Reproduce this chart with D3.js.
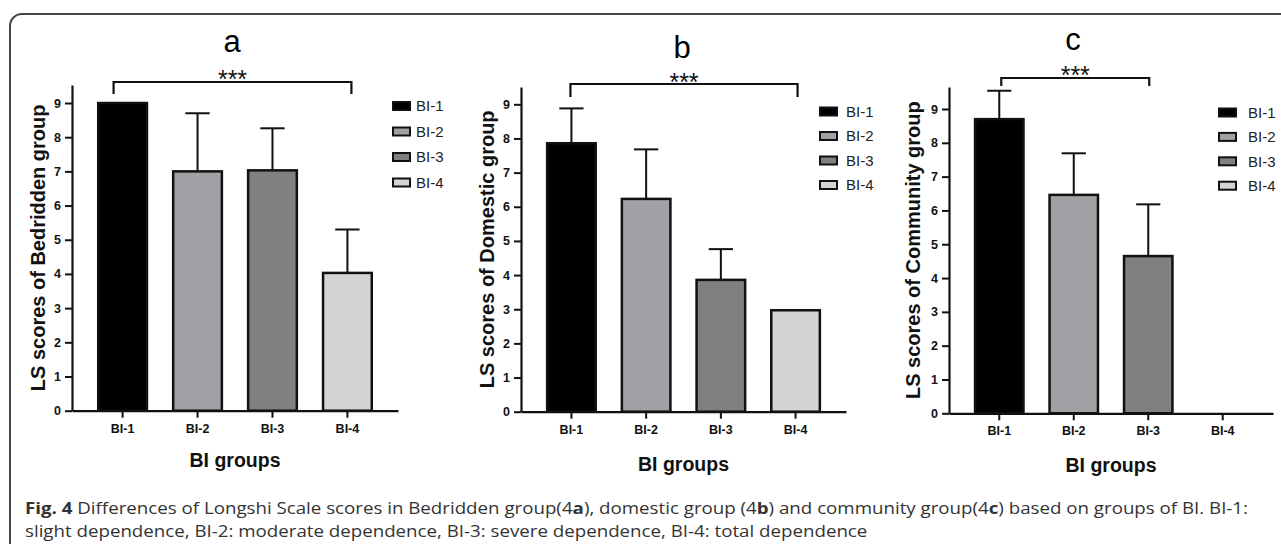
<!DOCTYPE html>
<html>
<head>
<meta charset="utf-8">
<script src="https://cdn.jsdelivr.net/npm/d3@7"></script>
<style>
  body { margin: 0; background: #fff; }
  svg { display: block; font-family: "Liberation Sans", Arial, sans-serif; }
</style>
</head>
<body>
<script>
// data
const groups = ["BI-1", "BI-2", "BI-3", "BI-4"];
const tickValues = [0, 1, 2, 3, 4, 5, 6, 7, 8, 9];

const bedriddenMeans = [9.0, 7.0, 7.03, 4.03];
const bedriddenErr = [0, 1.7, 1.23, 1.27];

const domesticMeans = [7.86, 6.23, 3.86, 2.97];
const domesticErr = [1.02, 1.45, 0.9, 0];

const communityMeans = [8.7, 6.46, 4.65, null];
const communityErr = [0.84, 1.23, 1.53, 0];

const barColors = ["#000000", "#a1a1a5", "#808080", "#d4d4d4"];

const captionBold = "Fig. 4";
const captionLine1 = [
  [" Differences of Longshi Scale scores in Bedridden group(4", false],
  ["a", true],
  ["), domestic group (4", false],
  ["b", true],
  [") and community group(4", false],
  ["c", true],
  [") based on groups of BI. BI-1:", false],
];
const captionLine2 =
  "slight dependence, BI-2: moderate dependence, BI-3: severe dependence, BI-4: total dependence";

const width = 1281;
const height = 544;

const svg = d3
  .select("body")
  .append("svg")
  .attr("width", width)
  .attr("height", height);

// frame around the figure
svg
  .append("rect")
  .attr("x", 10)
  .attr("y", 14)
  .attr("width", 1320)
  .attr("height", 600)
  .attr("rx", 12)
  .attr("fill", "none")
  .attr("stroke", "#444")
  .attr("stroke-width", 2);

// panel layout (pixel positions)
const panels = [
  {
    letter: "a",
    yLabel: "LS scores of Bedridden group",
    means: bedriddenMeans,
    err: bedriddenErr,
    x0: 72, x1: 398, y0: 410.7, y9: 103, yTop: 85,
    titleX: 232, titleY: 52,
    labelX: 38, xLabelY: 467,
    bracket: { from: 0, to: 3, dxFrom: -9, dxTo: 4, y: 82, drop: 12, starY: 88 },
    legend: { x: 392, y: 106, step: 25.5, textX: 416 },
  },
  {
    letter: "b",
    yLabel: "LS scores of Domestic group",
    means: domesticMeans,
    err: domesticErr,
    x0: 521, x1: 846, y0: 411.7, y9: 104.3, yTop: 87,
    titleX: 682, titleY: 58,
    labelX: 487, xLabelY: 471,
    bracket: { from: 0, to: 3, dxFrom: -1, dxTo: 2, y: 84, drop: 13, starY: 91 },
    legend: { x: 819, y: 111.5, step: 24.5, textX: 846 },
  },
  {
    letter: "c",
    yLabel: "LS scores of Community group",
    means: communityMeans,
    err: communityErr,
    x0: 949, x1: 1273, y0: 413.3, y9: 109, yTop: 87,
    titleX: 1073, titleY: 50,
    labelX: 913, xLabelY: 472,
    bracket: { from: 0, to: 2, dxFrom: 2, dxTo: 1, y: 78, drop: 8, starY: 84 },
    legend: { x: 1218, y: 112.5, step: 24.4, textX: 1248 },
  },
];

panels.forEach((p) => {
  const g = svg.append("g").attr("class", `panel-${p.letter}`);

  const yMax = (9 * (p.y0 - p.yTop)) / (p.y0 - p.y9);
  const yScale = d3.scaleLinear().domain([0, yMax]).range([p.y0, p.yTop]);

  const xScale = d3
    .scaleBand()
    .domain(groups)
    .range([p.x0, p.x1])
    .paddingInner(0.35)
    .paddingOuter(0.35);

  const rows = groups.map((grp, i) => ({
    group: grp,
    mean: p.means[i],
    err: p.err[i],
    color: barColors[i],
  }));
  const drawn = rows.filter((d) => d.mean != null);

  // error bars (upper only), drawn under the bars
  const errRows = drawn.filter((d) => d.err > 0);
  const cx = (d) => xScale(d.group) + xScale.bandwidth() / 2;

  g.selectAll(".err")
    .data(errRows)
    .enter()
    .append("line")
    .attr("x1", cx)
    .attr("x2", cx)
    .attr("y1", (d) => yScale(d.mean))
    .attr("y2", (d) => yScale(d.mean + d.err))
    .attr("stroke", "#111")
    .attr("stroke-width", 2);

  g.selectAll(".cap")
    .data(errRows)
    .enter()
    .append("line")
    .attr("x1", (d) => cx(d) - xScale.bandwidth() / 4)
    .attr("x2", (d) => cx(d) + xScale.bandwidth() / 4)
    .attr("y1", (d) => yScale(d.mean + d.err))
    .attr("y2", (d) => yScale(d.mean + d.err))
    .attr("stroke", "#111")
    .attr("stroke-width", 2);

  g.selectAll(".bar")
    .data(drawn)
    .enter()
    .append("rect")
    .attr("x", (d) => xScale(d.group))
    .attr("y", (d) => yScale(d.mean))
    .attr("width", xScale.bandwidth())
    .attr("height", (d) => p.y0 - yScale(d.mean))
    .attr("fill", (d) => d.color)
    .attr("stroke", "#111")
    .attr("stroke-width", 2.5);

  // axes
  const yAxis = d3
    .axisLeft(yScale)
    .tickValues(tickValues)
    .tickFormat(d3.format("d"))
    .tickSize(7)
    .tickPadding(4)
    .tickSizeOuter(0);

  const xAxis = d3
    .axisBottom(xScale)
    .tickSize(7)
    .tickPadding(6)
    .tickSizeOuter(0);

  const yg = g
    .append("g")
    .attr("transform", `translate(${p.x0}, 0)`)
    .call(yAxis);

  const xg = g
    .append("g")
    .attr("transform", `translate(0, ${p.y0})`)
    .call(xAxis);

  [yg, xg].forEach((ax) => {
    ax.attr("font-size", null).attr("font-family", null);
    ax.select(".domain").attr("stroke", "#111").attr("stroke-width", 2.2);
    ax.selectAll(".tick line").attr("stroke", "#111").attr("stroke-width", 2);
    ax.selectAll(".tick text")
      .attr("fill", "#111")
      .style("font-size", "12.5px")
      .style("font-weight", "bold");
  });

  // title letter
  g.append("text")
    .attr("x", p.titleX)
    .attr("y", p.titleY)
    .attr("text-anchor", "middle")
    .style("font-size", "31px")
    .text(p.letter);

  // axis labels
  g.append("text")
    .attr("transform", `translate(${p.labelX}, ${(p.y0 + p.yTop) / 2}) rotate(-90)`)
    .attr("text-anchor", "middle")
    .attr("dy", "0.35em")
    .style("font-size", "20px")
    .style("font-weight", "bold")
    .attr("fill", "#111")
    .text(p.yLabel);

  g.append("text")
    .attr("x", (p.x0 + p.x1) / 2)
    .attr("y", p.xLabelY)
    .attr("text-anchor", "middle")
    .style("font-size", "19.5px")
    .style("font-weight", "bold")
    .attr("fill", "#111")
    .text("BI groups");

  // significance bracket
  const b = p.bracket;
  const bx1 = xScale(groups[b.from]) + xScale.bandwidth() / 2 + b.dxFrom;
  const bx2 = xScale(groups[b.to]) + xScale.bandwidth() / 2 + b.dxTo;
  g.append("path")
    .attr("d", `M${bx1},${b.y + b.drop}V${b.y}H${bx2}V${b.y + b.drop}`)
    .attr("fill", "none")
    .attr("stroke", "#111")
    .attr("stroke-width", 2.2);

  g.append("text")
    .attr("x", (bx1 + bx2) / 2)
    .attr("y", b.starY)
    .attr("text-anchor", "middle")
    .style("font-size", "25px")
    .attr("fill", "#111")
    .text("***");

  // legend
  const lg = g.append("g");
  const items = lg
    .selectAll("g")
    .data(rows)
    .enter()
    .append("g")
    .attr("transform", (d, i) => `translate(0, ${p.legend.y + i * p.legend.step})`);

  items
    .append("rect")
    .attr("x", p.legend.x + 1)
    .attr("y", -4)
    .attr("width", 17)
    .attr("height", 8)
    .attr("fill", (d) => d.color)
    .attr("stroke", "#111")
    .attr("stroke-width", 2);

  items
    .append("text")
    .attr("x", p.legend.textX)
    .attr("dy", "0.36em")
    .style("font-size", "15px")
    .attr("fill", "#222")
    .text((d) => d.group);
});

// caption: both lines share one horizontal stretch so line 1 fills the width
const cap1 = svg
  .append("text")
  .attr("x", 25)
  .attr("y", 514)
  .style("font-family", "'Open Sans', 'Noto Sans', sans-serif")
  .style("font-size", "16px")
  .attr("fill", "#333");

cap1.append("tspan").style("font-weight", "bold").text(captionBold);
captionLine1.forEach(([t, bold]) => {
  cap1
    .append("tspan")
    .style("font-weight", bold ? "bold" : "normal")
    .text(t);
});

const cap2 = svg
  .append("text")
  .attr("x", 25)
  .attr("y", 537)
  .style("font-family", "'Open Sans', 'Noto Sans', sans-serif")
  .style("font-size", "16px")
  .attr("fill", "#333")
  .text(captionLine2);

const stretch = 1223 / cap1.node().getComputedTextLength();
cap1.attr("textLength", 1223).attr("lengthAdjust", "spacingAndGlyphs");
cap2
  .attr("textLength", cap2.node().getComputedTextLength() * stretch)
  .attr("lengthAdjust", "spacingAndGlyphs");
</script>
</body>
</html>
